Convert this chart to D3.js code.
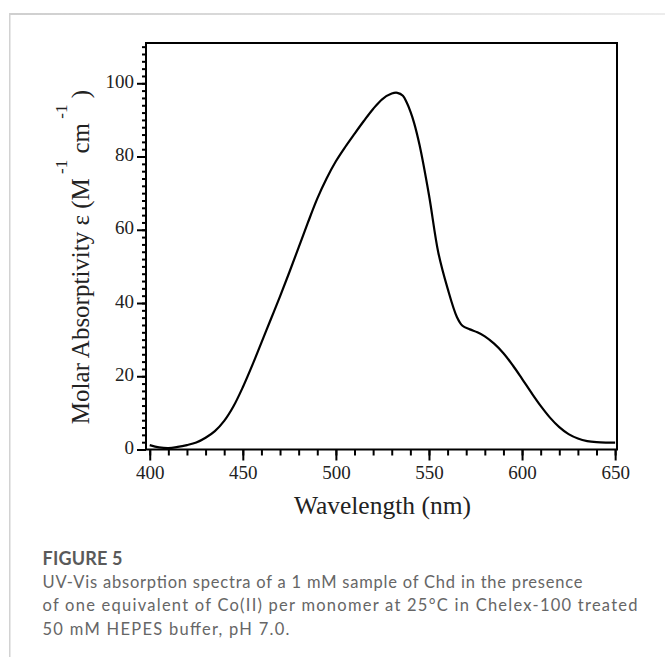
<!DOCTYPE html>
<html>
<head>
<meta charset="utf-8">
<script src="https://cdn.jsdelivr.net/npm/d3@7"></script>
<style>
  body { margin: 0; background: #fff; }
</style>
</head>
<body>
<div id="chart"></div>
<script>

// spectrum
var wavelengths = [400,405,410,415,420,425,430,435,440,445,450,455,460,465,470,475,480,485,490,495,
  500,505,510,515,520,525,530,533,536,538,540,542,545,550,555,560,565,568,572,576,
  580,585,590,595,600,605,610,615,620,625,630,635,640,645,650];
var absorptivity = [1.2,0.6,0.4,0.7,1.2,1.9,3.2,5.0,7.8,11.8,17.0,22.9,29.2,35.5,41.8,48.4,55.2,62.0,68.5,74.0,
  78.7,82.6,86.2,89.7,93.0,95.7,97.2,97.4,96.6,94.8,92.3,89.2,83.0,69.5,53.8,44.0,36.2,33.8,32.8,32.0,
  30.9,28.9,26.3,23.0,19.3,15.5,11.9,8.7,6.1,4.2,3.0,2.3,2.0,1.9,1.9];

var xTicks = [400,450,500,550,600,650];
var yTicks = [0,20,40,60,80,100];

var captionTitle = "FIGURE 5";
var captionLines = [
  "UV-Vis absorption spectra of a 1 mM sample of Chd in the presence",
  "of one equivalent of Co(II) per monomer at 25\u00B0C in Chelex-100 treated",
  "50 mM HEPES buffer, pH 7.0."
];

var W = 665, H = 661;
var box = {left: 146, right: 617, top: 43, bottom: 449.5};

var svg = d3.select("#chart")
  .append("svg")
    .attr("width", W)
    .attr("height", H);

svg.append("rect").attr("width", W).attr("height", H).attr("fill", "#fff");

// card border (top fades out to the right)
var grad = svg.append("defs").append("linearGradient")
  .attr("id", "topfade").attr("x1", "0").attr("x2", "1").attr("y1", "0").attr("y2", "0");
grad.append("stop").attr("offset", "0").attr("stop-color", "#cfcfcf");
grad.append("stop").attr("offset", "1").attr("stop-color", "#ececec");
svg.append("rect").attr("x", 9).attr("y", 13).attr("width", W - 9).attr("height", 2).attr("fill", "url(#topfade)");
svg.append("rect").attr("x", 9).attr("y", 13).attr("width", 1.5).attr("height", 644).attr("fill", "#d2d2d2");

// scales
var x = d3.scaleLinear()
  .domain([398, 651])
  .range([box.left, box.right]);
var y = d3.scaleLinear()
  .domain([0, 111])
  .range([box.bottom, box.top]);

var serif = "'Liberation Serif', 'Times New Roman', serif";

// X axis minor + major
svg.append("g")
  .attr("transform", "translate(0," + box.bottom + ")")
  .call(d3.axisBottom(x).tickValues(d3.range(400, 651, 10)).tickSize(6).tickFormat(""))
  .call(function(g) { g.select(".domain").remove(); });
var gx = svg.append("g")
  .attr("transform", "translate(0," + box.bottom + ")")
  .call(d3.axisBottom(x).tickValues(xTicks).tickSize(11).tickPadding(5).tickFormat(d3.format("d")));
gx.select(".domain").remove();
gx.selectAll("text").style("font-family", serif).style("font-size", "19px").attr("fill", "#222");

// Y axis minor + major
svg.append("g")
  .attr("transform", "translate(" + box.left + ",0)")
  .call(d3.axisLeft(y).tickValues(d3.range(0, 111, 2)).tickSize(4).tickFormat(""))
  .call(function(g) { g.select(".domain").remove(); });
var gy = svg.append("g")
  .attr("transform", "translate(" + box.left + ",0)")
  .call(d3.axisLeft(y).tickValues(yTicks).tickSize(9).tickPadding(3).tickFormat(d3.format("d")));
gy.select(".domain").remove();
gy.selectAll("text").style("font-family", serif).style("font-size", "19px").attr("fill", "#222").attr("dy", "0.22em");

svg.selectAll(".tick line").attr("stroke", "#000").attr("stroke-width", 2);

// frame
svg.append("rect")
  .attr("x", box.left).attr("y", box.top)
  .attr("width", box.right - box.left).attr("height", box.bottom - box.top)
  .attr("fill", "none").attr("stroke", "#000").attr("stroke-width", 2);

// the spectrum
var line = d3.line()
  .x(function(d, i) { return x(wavelengths[i]); })
  .y(function(d) { return y(d); })
  .curve(d3.curveCatmullRom.alpha(0.5));
svg.append("path")
  .datum(absorptivity)
  .attr("d", line)
  .attr("fill", "none")
  .attr("stroke", "#000")
  .attr("stroke-width", 2.2);

// axis titles
svg.append("text")
  .attr("x", (x(400) + x(650)) / 2)
  .attr("y", 514)
  .attr("text-anchor", "middle")
  .style("font-family", serif).style("font-size", "25.5px").attr("fill", "#222")
  .text("Wavelength (nm)");

var yt = svg.append("text")
  .attr("transform", "translate(89,90) rotate(-90)")
  .attr("text-anchor", "end")
  .style("font-family", serif).style("font-size", "25px").attr("fill", "#222");
yt.append("tspan").text("Molar Absorptivity \u03B5 (M");
yt.append("tspan").attr("dy", -22).style("font-size", "17px").text(" -1");
yt.append("tspan").attr("dy", 22).text(" cm");
yt.append("tspan").attr("dy", -22).style("font-size", "17px").text(" -1");
yt.append("tspan").attr("dy", 22).text(" )");

// caption
var sans = "Lato, 'Open Sans', sans-serif";
svg.append("text")
  .attr("x", 42.5).attr("y", 565)
  .attr("textLength", 80)
  .attr("lengthAdjust", "spacing")
  .style("font-family", sans).style("font-size", "18px").style("font-weight", "700")
  .attr("fill", "#5a5a5a")
  .text(captionTitle);

var capWidths = [540, 595, 247];
svg.selectAll(".cap")
  .data(captionLines)
  .enter()
  .append("text")
    .attr("class", "cap")
    .attr("x", 42.5)
    .attr("y", function(d, i) { return 588 + i * 23.3; })
    .attr("textLength", function(d, i) { return capWidths[i]; })
    .attr("lengthAdjust", "spacing")
    .style("font-family", sans).style("font-size", "16.5px")
    .attr("fill", "#666")
    .text(function(d) { return d; });

</script>
</body>
</html>
